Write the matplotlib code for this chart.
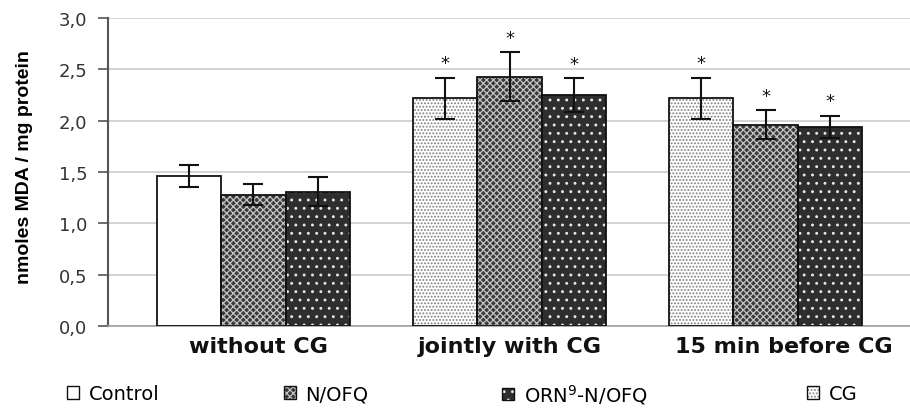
import numpy as np
import matplotlib
matplotlib.use("Agg")
import matplotlib.pyplot as plt
import matplotlib.patches as mpatches

plt.rcParams['font.family'] = ['DejaVu Sans']
plt.rcParams['hatch.linewidth'] = 0.9

groups = ["without CG", "jointly with CG", "15 min before CG"]

control = [1.46, np.nan, np.nan]
control_err = [0.105, 0, 0]
cg = [np.nan, 2.22, 2.22]
cg_err = [0, 0.20, 0.20]
nofq = [1.28, 2.43, 1.96]
nofq_err = [0.105, 0.235, 0.14]
orn = [1.31, 2.25, 1.94]
orn_err = [0.14, 0.165, 0.11]

# significance marks (* vs control) per group
signif_cg = [False, True, True]
signif_nofq = [False, True, True]
signif_orn = [False, True, True]

legend_labels = ["Control", "N/OFQ", "ORN$^{9}$-N/OFQ", "CG"]
legend_x = [0.074, 0.312, 0.552, 0.887]   # figure-fraction anchor of each entry

styles = {
    "Control": dict(face="white", hatch=None, hcol="white"),
    "N/OFQ": dict(face="#3a3a3a", hatch="xxxxx", hcol="#c4c4c4"),
    "ORN": dict(face="#2e2e2e", hatch="..", hcol="#e8e8e8"),
    "CG": dict(face="white", hatch=".....", hcol="#808080"),
}

fig = plt.figure(figsize=(9.1, 4.1), dpi=100)
ax = fig.add_axes([0.1187, 0.2024, 0.8813, 0.7512])

x = np.arange(len(groups))
w = 0.252


def draw(xpos, vals, errs, st):
    ax.bar(xpos, vals, w, color=st["face"], hatch=st["hatch"],
           edgecolor=st["hcol"], linewidth=0, zorder=2)
    ax.bar(xpos, vals, w, fill=False, edgecolor="#111111",
           linewidth=1.3, zorder=3)
    ax.errorbar(xpos, vals, yerr=errs, fmt="none", ecolor="#111111",
                elinewidth=1.5, capsize=7, capthick=1.5, zorder=4)


def stars(xpos, vals, errs, flags):
    for xi, v, e, f in zip(xpos, vals, errs, flags):
        if f:
            ax.text(xi, v + e + 0.05, "*", ha="center", va="bottom",
                    fontsize=13, color="#111111")


draw(x - w, control, control_err, styles["Control"])
draw(x - w, cg, cg_err, styles["CG"])
draw(x, nofq, nofq_err, styles["N/OFQ"])
draw(x + w, orn, orn_err, styles["ORN"])

stars(x - w, cg, cg_err, signif_cg)
stars(x, nofq, nofq_err, signif_nofq)
stars(x + w, orn, orn_err, signif_orn)

ax.set_xlim(-0.568, 2.564)
ax.set_ylim(0, 3.0)
yt = np.arange(0, 3.01, 0.5)
ax.set_yticks(yt)
ax.set_yticklabels([f"{v:.1f}".replace(".", ",") for v in yt],
                   fontsize=13, color="#333333")
ax.yaxis.grid(True, color="#cccccc", linewidth=1.2)
ax.set_axisbelow(True)
ax.tick_params(axis="y", direction="out", length=7, width=1.2,
               color="#555555", pad=8)

ax.set_xticks([0.02, 1.0, 2.07])
ax.set_xticklabels(groups, fontsize=16, fontweight="bold", color="#111111")
ax.tick_params(axis="x", length=0, pad=7)

ax.set_ylabel("nmoles MDA / mg protein", fontsize=14, fontweight="bold",
              family=["Liberation Sans", "DejaVu Sans"])
ax.yaxis.set_label_coords(-0.093, 0.52)

for s in ["top", "right"]:
    ax.spines[s].set_visible(False)
ax.spines["left"].set_color("#555555")
ax.spines["left"].set_linewidth(1.5)
ax.spines["bottom"].set_color("#a0a0a0")
ax.spines["bottom"].set_linewidth(1.2)

for key, lab, lx in zip(["Control", "N/OFQ", "ORN", "CG"], legend_labels, legend_x):
    st = styles[key]
    fillp = mpatches.Patch(facecolor=st["face"], hatch=st["hatch"],
                           edgecolor=st["hcol"], linewidth=0)
    edgep = mpatches.Patch(fill=False, edgecolor="#111111", linewidth=1.0)
    fig.legend([(fillp, edgep)], [lab], loc="center left",
               bbox_to_anchor=(lx, 0.037), frameon=False, borderpad=0,
               borderaxespad=0, fontsize=14, handlelength=0.6,
               handleheight=0.6, handletextpad=0.5)

fig.savefig("out.png", dpi=100)
